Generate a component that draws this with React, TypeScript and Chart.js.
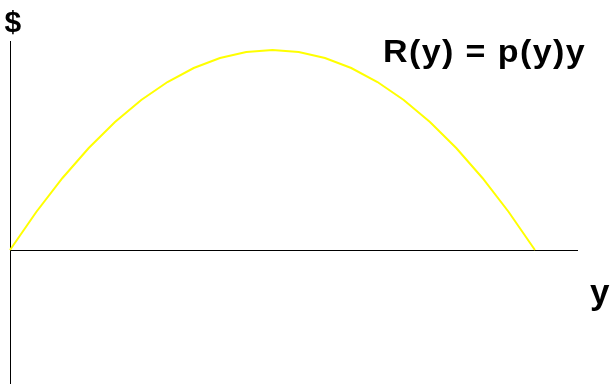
import React, { useEffect, useRef } from "react";
import { Chart, registerables } from "chart.js";

Chart.register(...registerables);

// Quantity y (x-axis) and revenue R(y) = p(y)y (y-axis)
const quantities = [0, 5, 10, 15, 20, 25, 30, 35, 40, 45, 50, 55, 60, 65, 70, 75, 80, 85, 90, 95, 100];
const revenue = [0, 19, 36, 51, 64, 75, 84, 91, 96, 99, 100, 99, 96, 91, 84, 75, 64, 51, 36, 19, 0];

const xRange = [0, 108.2];
const yRange = [-67, 104.5];

const axesPlugin = {
  id: "originAxes",
  beforeDatasetsDraw(chart: any) {
    const { ctx, chartArea, scales } = chart;
    const x0 = Math.round(scales.x.getPixelForValue(0)) + 0.5;
    const y0 = Math.round(scales.y.getPixelForValue(0)) + 0.5;
    ctx.save();
    ctx.strokeStyle = "#000000";
    ctx.lineWidth = 1;
    ctx.beginPath();
    ctx.moveTo(x0, chartArea.top);
    ctx.lineTo(x0, chartArea.bottom);
    ctx.moveTo(chartArea.left, y0);
    ctx.lineTo(chartArea.right, y0);
    ctx.stroke();
    ctx.restore();
  },
};

export default function App() {
  const ref = useRef<HTMLCanvasElement | null>(null);
  useEffect(() => {
    if (!ref.current) return;
    const chart = new Chart(ref.current, {
      type: "line",
      data: {
        datasets: [
          {
            data: quantities.map((q, i) => ({ x: q, y: revenue[i] })),
            borderColor: "#FFFF00",
            borderWidth: 2,
            pointRadius: 0,
            tension: 0,
            fill: false,
            clip: false as any,
          },
        ],
      },
      options: {
        responsive: false,
        animation: false,
        layout: { padding: { left: 10, right: 38, top: 41, bottom: 2 } },
        plugins: { legend: { display: false }, tooltip: { enabled: false }, title: { display: false } },
        scales: {
          x: { type: "linear", display: false, min: xRange[0], max: xRange[1] },
          y: { type: "linear", display: false, min: yRange[0], max: yRange[1] },
        },
      },
      plugins: [axesPlugin],
    });
    return () => chart.destroy();
  }, []);

  const font = '"Liberation Sans", Arial, sans-serif';
  const textStyle = (left: number, top: number, size: number, extra: React.CSSProperties = {}): React.CSSProperties => ({
    position: "absolute",
    left,
    top,
    fontFamily: font,
    fontWeight: "bold",
    fontSize: size,
    lineHeight: 1,
    color: "#000",
    whiteSpace: "nowrap",
    ...extra,
  });

  return (
    <div style={{ position: "fixed", left: 0, top: 0, width: 616, height: 386, background: "#fff" }}>
      <canvas ref={ref} width={616} height={386} style={{ position: "absolute", left: 0, top: 0 }} />
      <div style={textStyle(4.5, 7, 30)}>$</div>
      <div
        style={textStyle(382.7, 35.5, 31.5, {
          letterSpacing: 1.3,
          transform: "scaleX(1.08)",
          transformOrigin: "left top",
        })}
      >
        R(y) = p(y)y
      </div>
      <div style={textStyle(590, 274, 35)}>y</div>
    </div>
  );
}
